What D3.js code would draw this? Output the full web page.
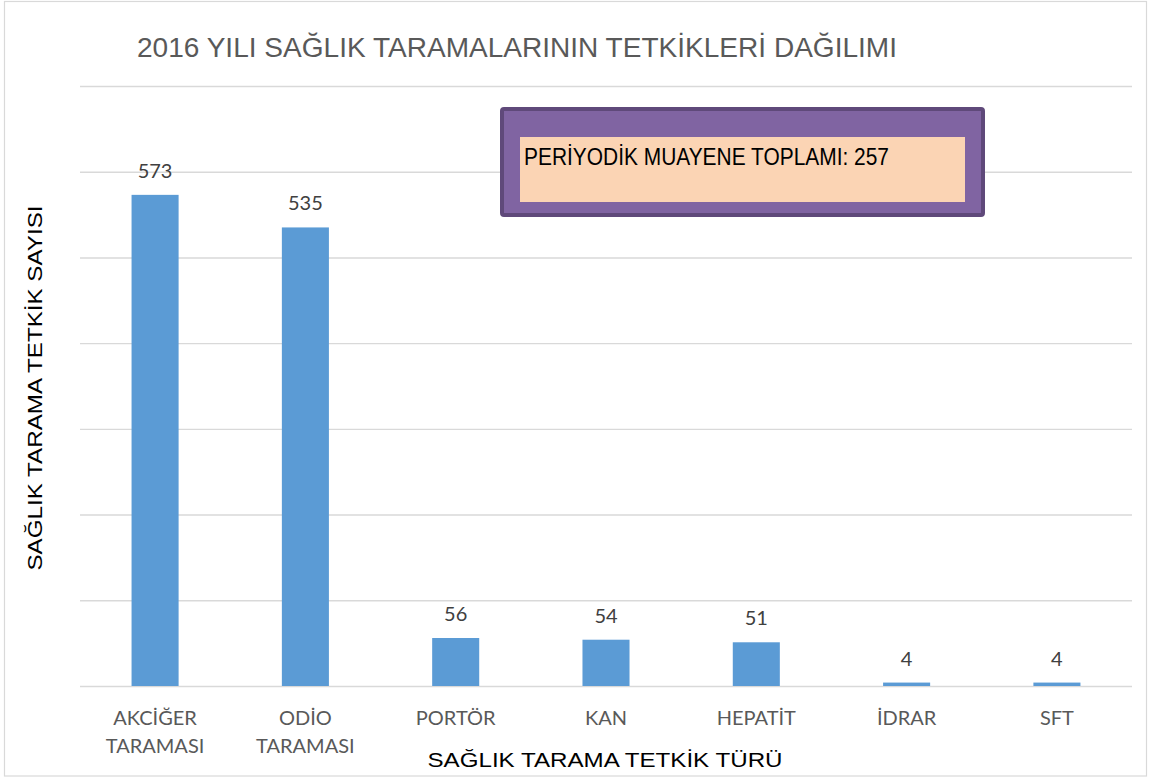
<!DOCTYPE html>
<html>
<head>
<meta charset="utf-8">
<script src="https://cdn.jsdelivr.net/npm/d3@7"></script>
<style>
  html, body { margin: 0; padding: 0; background: #fff; }
  svg { display: block; }
</style>
</head>
<body>
<svg id="chart" width="1150" height="778"></svg>
<script>
// Screening test counts for 2016
const categories = [["AKCİĞER", "TARAMASI"], ["ODİO", "TARAMASI"], ["PORTÖR"], ["KAN"], ["HEPATİT"], ["İDRAR"], ["SFT"]];
const values = [573, 535, 56, 54, 51, 4, 4];
const yTicks = [0, 100, 200, 300, 400, 500, 600, 700];

const titleText = "2016 YILI SAĞLIK TARAMALARININ TETKİKLERİ DAĞILIMI";
const yAxisTitle = "SAĞLIK TARAMA TETKİK SAYISI";
const xAxisTitle = "SAĞLIK TARAMA TETKİK TÜRÜ";
const noteText = "PERİYODİK MUAYENE TOPLAMI: 257";

const svg = d3.select("#chart");
const W = 1150, H = 778;
const margin = { left: 80, right: 18, top: 86, bottom: 92 };
const plotW = W - margin.left - margin.right;
const plotH = H - margin.top - margin.bottom;

// outer chart frame
svg.append("rect")
  .attr("x", 4.5).attr("y", 1.5)
  .attr("width", 1142).attr("height", 774.5)
  .attr("fill", "#fff").attr("stroke", "#d9d9d9").attr("stroke-width", 1.2);

const g = svg.append("g").attr("transform", `translate(${margin.left},${margin.top})`);

const x = d3.scaleBand()
  .domain(categories.map((c, i) => i))
  .range([0, plotW])
  .paddingInner(0.687)
  .paddingOuter(0.343);

const y = d3.scaleLinear().domain([0, 700]).range([plotH, 0]);

// horizontal gridlines
const yAxis = d3.axisLeft(y).tickValues(yTicks).tickSize(-plotW).tickFormat("");
const yAxisG = g.append("g").call(yAxis);
yAxisG.select(".domain").remove();
yAxisG.selectAll(".tick line").attr("stroke", "#d9d9d9").attr("stroke-width", 1.4);

// bars
g.selectAll("rect.bar")
  .data(values)
  .join("rect")
  .attr("class", "bar")
  .attr("x", (d, i) => x(i))
  .attr("y", d => y(d))
  .attr("width", x.bandwidth())
  .attr("height", d => y(0) - y(d))
  .attr("fill", "#5b9bd5");

// value labels
g.selectAll("text.val")
  .data(values)
  .join("text")
  .attr("class", "val")
  .attr("x", (d, i) => x(i) + x.bandwidth() / 2)
  .attr("y", d => y(d) - 17)
  .attr("text-anchor", "middle")
  .attr("font-family", "Lato, 'Open Sans', sans-serif")
  .attr("font-size", 20)
  .attr("fill", "#404040")
  .text(d => d);

// category labels
const xAxis = d3.axisBottom(x).tickSize(0).tickFormat("");
const xAxisG = g.append("g").attr("transform", `translate(0,${plotH})`).call(xAxis);
xAxisG.select(".domain").remove();
xAxisG.selectAll(".tick").each(function(i) {
  const t = d3.select(this).append("text")
    .attr("text-anchor", "middle")
    .attr("font-family", "Lato, 'Open Sans', sans-serif")
    .attr("font-size", 20)
    .attr("fill", "#595959");
  categories[i].forEach((line, k) => {
    t.append("tspan").attr("x", 0).attr("y", 39 + k * 28).text(line);
  });
});

// chart title
svg.append("text")
  .attr("x", 137).attr("y", 57)
  .attr("font-family", "'Liberation Sans Narrow', 'Liberation Sans', Arial, sans-serif")
  .attr("font-size", 27)
  .attr("fill", "#595959")
  .attr("textLength", 760)
  .attr("lengthAdjust", "spacingAndGlyphs")
  .text(titleText);

// axis titles
svg.append("text")
  .attr("transform", `translate(42,${388}) rotate(-90)`)
  .attr("text-anchor", "middle")
  .attr("font-family", "'Liberation Sans', Arial, sans-serif")
  .attr("font-size", 21)
  .attr("fill", "#000")
  .attr("textLength", 365)
  .attr("lengthAdjust", "spacingAndGlyphs")
  .text(yAxisTitle);

svg.append("text")
  .attr("x", 605).attr("y", 767)
  .attr("text-anchor", "middle")
  .attr("font-family", "'Liberation Sans', Arial, sans-serif")
  .attr("font-size", 21)
  .attr("fill", "#000")
  .attr("textLength", 355)
  .attr("lengthAdjust", "spacingAndGlyphs")
  .text(xAxisTitle);

// annotation box
svg.append("rect")
  .attr("x", 502).attr("y", 109)
  .attr("width", 481).attr("height", 106)
  .attr("rx", 2)
  .attr("fill", "#8064a2").attr("stroke", "#5f497a").attr("stroke-width", 4);
svg.append("rect")
  .attr("x", 520).attr("y", 137)
  .attr("width", 445).attr("height", 65)
  .attr("fill", "#fbd4b4");
svg.append("text")
  .attr("x", 524).attr("y", 165)
  .attr("font-family", "'Liberation Sans Narrow', 'Liberation Sans', Arial, sans-serif")
  .attr("font-size", 24)
  .attr("fill", "#000")
  .attr("textLength", 365)
  .attr("lengthAdjust", "spacingAndGlyphs")
  .text(noteText);
</script>
</body>
</html>
